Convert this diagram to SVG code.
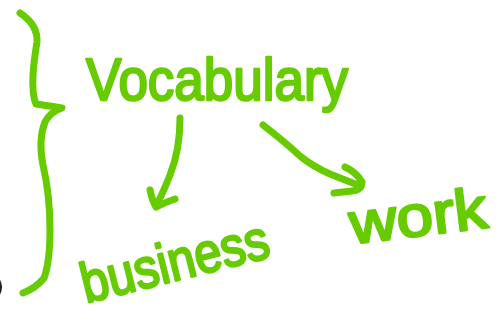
<svg xmlns="http://www.w3.org/2000/svg" width="503" height="320" viewBox="0 0 503 320">
<style>
.ink{fill:none;stroke:#66cc00;stroke-width:7;stroke-linecap:round;stroke-linejoin:round}
.lbl{font-family:"Liberation Sans","DejaVu Sans",sans-serif;fill:#66cc00;stroke:#66cc00;stroke-width:2.5;stroke-linejoin:round}
</style>
<rect width="503" height="320" fill="#ffffff"/>
<path d="M-2,279 Q3,286 -1,294" fill="none" stroke="#222" stroke-width="2.5"/>
<g id="brace">
<path class="ink" d="M20,13 Q38,25 37,42 Q34,60 33,75 Q32,95 36,104 Q50,106 62,108 Q50,112 45,122 Q38,140 43,165 Q50,195 50,230 Q50,262 44,278 Q36,288 23,293"/>
</g>
<g id="vocabulary">
<text class="lbl" x="86" y="100" font-size="60" textLength="262" lengthAdjust="spacingAndGlyphs">Vocabulary</text>
</g>
<g id="business">
<text class="lbl" x="86" y="303" font-size="56" textLength="192" lengthAdjust="spacingAndGlyphs" transform="rotate(-14 86 303)">business</text>
</g>
<g id="work">
<text class="lbl" x="352" y="244" font-size="58" textLength="138" lengthAdjust="spacingAndGlyphs" transform="rotate(-7 352 244)">work</text>
</g>
<g id="connectors">
<path class="ink" d="M180,118 Q180,150 170,175 Q163,193 156,206"/>
<path class="ink" d="M150,190 Q152,200 156,207 Q166,202 175,199"/>
<path class="ink" d="M263,125 Q285,142 300,156 Q312,166 330,174 Q345,180 358,185"/>
<path class="ink" d="M345,167 Q356,172 362,182 Q362,190 352,191 Q343,192 334,193"/>
</g>
</svg>
